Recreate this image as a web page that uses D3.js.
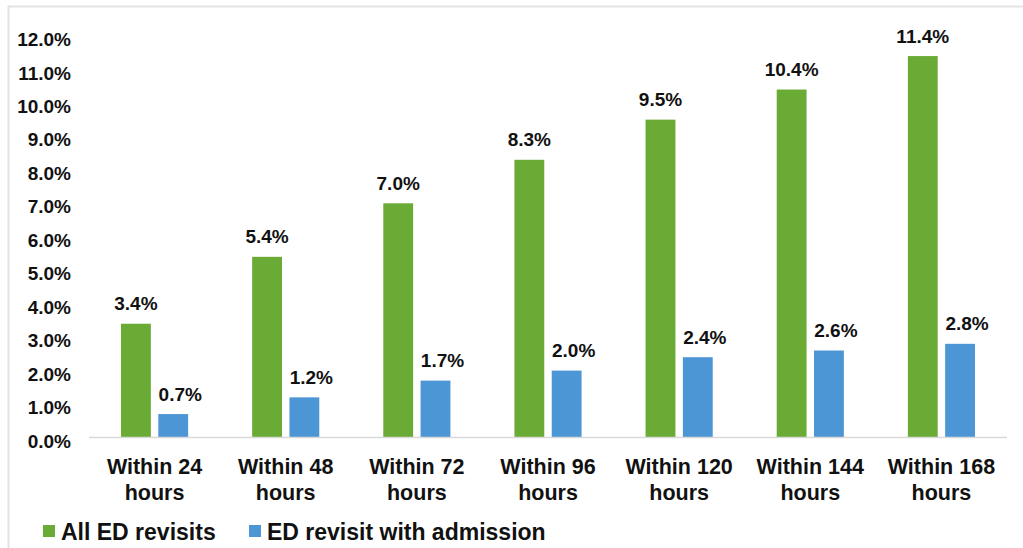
<!DOCTYPE html>
<html>
<head>
<meta charset="utf-8">
<script src="https://cdn.jsdelivr.net/npm/d3@7"></script>
<style>
  html, body { margin: 0; padding: 0; background: #fff; }
  #chart { width: 1023px; height: 548px; }
  text { font-family: "Liberation Sans", Arial, sans-serif; font-weight: bold; fill: #111; }
</style>
</head>
<body>
<div id="chart"></div>
<script>
// chart data
var categories = ["Within 24 hours", "Within 48 hours", "Within 72 hours", "Within 96 hours",
                  "Within 120 hours", "Within 144 hours", "Within 168 hours"];
var categoryLines = [["Within 24", "hours"], ["Within 48", "hours"], ["Within 72", "hours"], ["Within 96", "hours"],
                     ["Within 120", "hours"], ["Within 144", "hours"], ["Within 168", "hours"]];
var seriesNames = ["All ED revisits", "ED revisit with admission"];
var allRevisits = [3.4, 5.4, 7.0, 8.3, 9.5, 10.4, 11.4];
var withAdmission = [0.7, 1.2, 1.7, 2.0, 2.4, 2.6, 2.8];
var yTicks = [0, 1, 2, 3, 4, 5, 6, 7, 8, 9, 10, 11, 12];
var colors = ["#6aab35", "#4d96d6"];

var W = 1023, H = 548;
var margin = { left: 89, right: 16, top: 36, bottom: 110.5 };

var svg = d3.select("#chart").append("svg")
    .attr("width", W)
    .attr("height", H);

// light frame (top + left)
svg.append("line").attr("x1", 8).attr("x2", W).attr("y1", 6.5).attr("y2", 6.5)
    .attr("stroke", "#e3e3e3").attr("stroke-width", 2);
svg.append("line").attr("x1", 8.5).attr("x2", 8.5).attr("y1", 6).attr("y2", H)
    .attr("stroke", "#e3e3e3").attr("stroke-width", 2);

const x0 = d3.scaleBand()
    .domain(categories)
    .range([margin.left, W - margin.right])
    .paddingInner(0)
    .paddingOuter(0);

const x1 = d3.scaleBand()
    .domain(seriesNames)
    .range([32, x0.bandwidth() - 32])
    .paddingInner(0.2)
    .paddingOuter(0);

const y = d3.scaleLinear()
    .domain([0, 12])
    .range([H - margin.bottom, margin.top]);

// y axis labels (no line, no ticks)
const yAxis = d3.axisLeft(y)
    .tickValues(yTicks)
    .tickSize(0)
    .tickPadding(0)
    .tickFormat(function (d) { return d3.format(".1f")(d) + "%"; });

const yg = svg.append("g")
    .attr("transform", "translate(71,0)")
    .call(yAxis);
yg.select(".domain").remove();
yg.selectAll("text")
    .attr("dy", "0.32em")
    .attr("y", 3.5)
    .style("font-size", "19px")
    .style("font-family", "'Liberation Sans', Arial, sans-serif")
    .style("font-weight", "bold")
    .attr("fill", "#111");

// bars
var rows = categories.map(function (c, i) {
    return { cat: c, lines: categoryLines[i], values: [allRevisits[i], withAdmission[i]] };
});

const group = svg.selectAll(".grp")
    .data(rows)
    .enter().append("g")
    .attr("class", "grp")
    .attr("transform", function (d) { return "translate(" + x0(d.cat) + ",0)"; });

group.selectAll("rect")
    .data(function (d) {
        return d.values.map(function (v, k) { return { name: seriesNames[k], value: v, k: k }; });
    })
    .enter().append("rect")
    .attr("x", function (d) { return x1(d.name); })
    .attr("y", function (d) { return y(d.value); })
    .attr("width", x1.bandwidth())
    .attr("height", function (d) { return y(0) - y(d.value); })
    .attr("fill", function (d) { return colors[d.k]; });

// value labels
group.selectAll(".val")
    .data(function (d) {
        return d.values.map(function (v, k) { return { name: seriesNames[k], value: v, k: k }; });
    })
    .enter().append("text")
    .attr("class", "val")
    .attr("x", function (d) { return x1(d.name) + x1.bandwidth() / 2 + (d.k === 1 ? 7 : 0); })
    .attr("y", function (d) { return y(d.value) - 13.5; })
    .attr("text-anchor", "middle")
    .style("font-size", "19px")
    .text(function (d) { return d3.format(".1f")(d.value) + "%"; });

// baseline
svg.append("line")
    .attr("x1", margin.left).attr("x2", W - margin.right)
    .attr("y1", y(0)).attr("y2", y(0))
    .attr("stroke", "#d9d9d9").attr("stroke-width", 1.5);

// category labels (two lines)
const cat = group.append("text")
    .attr("text-anchor", "middle")
    .style("font-size", "21.5px");
cat.selectAll("tspan")
    .data(function (d) { return d.lines; })
    .enter().append("tspan")
    .attr("x", x0.bandwidth() / 2)
    .attr("y", function (d, i) { return 474 + i * 25.5; })
    .text(function (d) { return d; });

// legend
var legendX = [43, 249];
const legend = svg.selectAll(".legend")
    .data(seriesNames)
    .enter().append("g")
    .attr("class", "legend")
    .attr("transform", function (d, i) { return "translate(" + legendX[i] + ",525)"; });
legend.append("rect")
    .attr("width", 12).attr("height", 12)
    .attr("fill", function (d, i) { return colors[i]; });
legend.append("text")
    .attr("x", 18)
    .attr("y", 14.5)
    .style("font-size", "23px")
    .text(function (d) { return d; });
</script>
</body>
</html>
